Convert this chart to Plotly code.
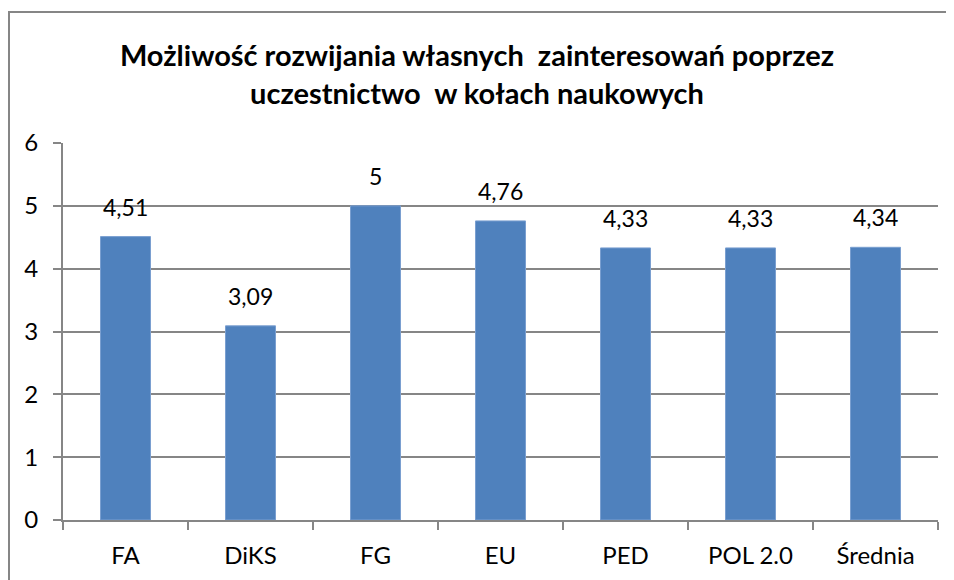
import plotly.graph_objects as go

categories = ["FA", "DiKS", "FG", "EU", "PED", "POL 2.0", "Średnia"]
values = [4.51, 3.09, 5, 4.76, 4.33, 4.33, 4.34]
value_labels = ["4,51", "3,09", "5", "4,76", "4,33", "4,33", "4,34"]
y_ticks = [0, 1, 2, 3, 4, 5, 6]

title_text = "Możliwość rozwijania własnych  zainteresowań poprzez<br>uczestnictwo  w kołach naukowych"

FONT = "Lato"
# page body has an 8px margin, so the figure starts at (8, 8) on screen
L, T, R, B = 55, 135, 24, 68
W, H = 954, 580
pw = W - L - R
ph = H - T - B

fig = go.Figure()
fig.add_trace(go.Bar(
    x=categories, y=values,
    marker=dict(color="#4F81BD", line=dict(color="#7A9FD0", width=1)),
    width=0.4,
    hoverinfo="skip",
))
for c, v, t in zip(categories, values, value_labels):
    fig.add_annotation(x=c, y=v, text=t, showarrow=False, yanchor="middle",
                       yshift=30, font=dict(family=FONT, size=23, color="#000000"))

fig.update_layout(
    width=W, height=H,
    margin=dict(l=L, r=R, t=T, b=B),
    paper_bgcolor="white", plot_bgcolor="white",
    showlegend=False,
    title=dict(text=title_text, x=469 / W, xanchor="center",
               y=1 - 58 / H, yanchor="middle",
               font=dict(family=FONT, size=29, color="#000000", weight="bold")),
    font=dict(family=FONT, size=24, color="#000000"),
    xaxis=dict(
        showline=True, linecolor="#868686", linewidth=2,
        ticks="outside", ticklen=8, tickcolor="#868686", tickwidth=2,
        tickson="boundaries",
        tickfont=dict(family=FONT, size=24),
        ticklabelstandoff=13,
        showgrid=False,
        range=[-0.5, 6.5],
    ),
    yaxis=dict(
        range=[0, 6], tickvals=y_ticks,
        showline=True, linecolor="#868686", linewidth=2,
        ticks="outside", ticklen=8, tickcolor="#868686", tickwidth=2,
        ticklabelstandoff=10,
        showgrid=True, gridcolor="#868686", gridwidth=2,
        tickfont=dict(family=FONT, size=24),
        zeroline=False,
    ),
)
# outer chart border (left and top edges visible in the frame)
fig.add_shape(type="rect", xref="paper", yref="paper",
              x0=(1 - L) / pw, x1=(W + 20 - L) / pw,
              y0=(-30 - B) / ph + 0, y1=(H - 4 - B) / ph,
              line=dict(color="#868686", width=2), layer="below")

fig.write_html("out.html")
